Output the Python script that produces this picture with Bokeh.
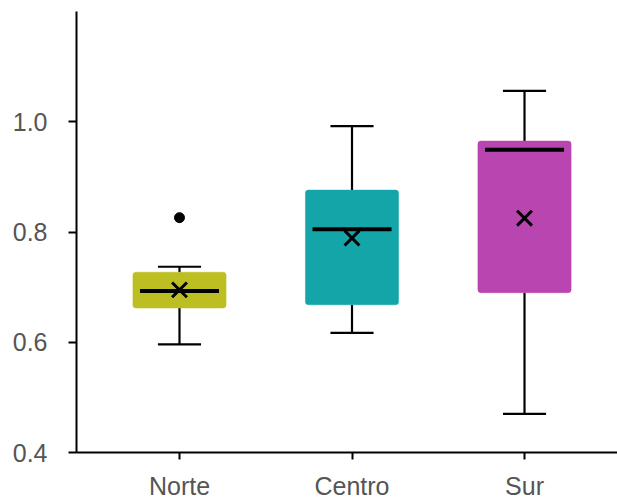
from bokeh.plotting import figure
from bokeh.models import FixedTicker, Range1d, ColumnDataSource, CustomJSTickFormatter
from bokeh.embed import file_html
from bokeh.resources import INLINE

categories = ["Norte", "Centro", "Sur"]
colors = ["#bcbe22", "#14a5a9", "#b845b0"]
lower_whisker = [0.596, 0.617, 0.470]
q1 = [0.662, 0.668, 0.690]
median = [0.693, 0.805, 0.949]
q3 = [0.727, 0.876, 0.965]
upper_whisker = [0.737, 0.992, 1.056]
means = [0.695, 0.789, 0.825]
outlier_cat = [0]
outlier_val = [0.826]
y_ticks = [0.4, 0.6, 0.8, 1.0]

xs = list(range(len(categories)))
box_w = 0.54
med_w = 0.458
cap_w = 0.25

p = figure(width=617, height=502, output_backend="svg", toolbar_location=None,
           x_range=Range1d(-0.597, 2.539), y_range=Range1d(0.4, 1.2),
           min_border_left=76, min_border_top=11, min_border_bottom=50, min_border_right=0)
p.outline_line_color = None
p.xgrid.visible = False
p.ygrid.visible = False
p.background_fill_color = "white"
p.border_fill_color = "white"

src = ColumnDataSource(dict(x=xs, q1=q1, q3=q3, med=median, lw=lower_whisker, uw=upper_whisker,
                            mean=means, color=colors))

# whiskers
p.segment(x0="x", y0="q3", x1="x", y1="uw", source=src, line_color="black", line_width=2.2)
p.segment(x0="x", y0="lw", x1="x", y1="q1", source=src, line_color="black", line_width=2.2)
cl = [x - cap_w / 2 for x in xs]
cr = [x + cap_w / 2 for x in xs]
p.segment(x0=cl, y0=upper_whisker, x1=cr, y1=upper_whisker, line_color="black", line_width=2.2)
p.segment(x0=cl, y0=lower_whisker, x1=cr, y1=lower_whisker, line_color="black", line_width=2.2)

# boxes
p.vbar(x="x", width=box_w, bottom="q1", top="q3", source=src, fill_color="color",
       line_color="color", line_width=0.5, border_radius=3)

# medians
ml = [x - med_w / 2 for x in xs]
mr = [x + med_w / 2 for x in xs]
p.segment(x0=ml, y0=median, x1=mr, y1=median, line_color="black", line_width=4)

# means
p.scatter(x="x", y="mean", source=src, marker="x", size=21, line_color="black", line_width=3)

# outliers
p.scatter(x=outlier_cat, y=outlier_val, marker="circle", size=10, fill_color="black", line_color="black")

for ax in (p.xaxis[0], p.yaxis[0]):
    ax.axis_line_color = "black"
    ax.axis_line_width = 2
    ax.major_tick_line_color = "black"
    ax.major_tick_line_width = 2
    ax.minor_tick_line_color = None
    ax.major_tick_in = 0
    ax.major_label_text_color = "#555555"
    ax.major_label_text_font = "Liberation Sans"
    ax.major_label_text_font_size = "25px"

p.yaxis.ticker = FixedTicker(ticks=y_ticks)
p.yaxis.major_tick_out = 8
p.yaxis.major_label_standoff = 21
p.yaxis.formatter = CustomJSTickFormatter(code="return tick.toFixed(1);")

p.xaxis.ticker = FixedTicker(ticks=xs)
p.xaxis.major_label_overrides = {i: c for i, c in zip(xs, categories)}
p.xaxis.major_tick_out = 7
p.xaxis.major_label_standoff = 12

open("out.html", "w").write(file_html(p, INLINE))
